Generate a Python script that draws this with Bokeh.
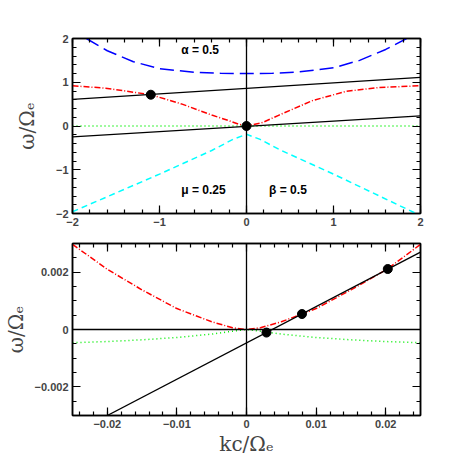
from bokeh.plotting import figure
from bokeh.layouts import column
from bokeh.models import Span, Label, LinearAxis, FixedTicker, Range1d
from bokeh.embed import file_html
from bokeh.resources import INLINE

# ---------------- data: top panel ----------------
k_blue = [-1.84, -1.6, -1.3, -1.0, -0.6, -0.3, 0.0, 0.3, 0.6, 1.0, 1.3, 1.6, 1.84]
w_blue = [2.0, 1.72, 1.47, 1.31, 1.23, 1.205, 1.2, 1.205, 1.235, 1.33, 1.5, 1.75, 2.0]

k_red = [-2.0, -1.62, -1.1, -0.74, -0.4, -0.2, -0.09, 0.0, 0.185, 0.375, 0.757, 1.14, 1.52, 2.0]
w_red = [0.92, 0.865, 0.715, 0.50, 0.25, 0.12, 0.04, 0.0, 0.08, 0.25, 0.58, 0.79, 0.88, 0.92]

k_cyan = [-2.0, -1.0, -0.4, -0.15, 0.0, 0.15, 0.4, 1.0, 1.95]
w_cyan = [-1.96, -1.1, -0.56, -0.3, -0.19, -0.3, -0.56, -1.1, -2.0]

k_green_top = [-2.0, 2.0]
w_green_top = [0.0, 0.0]

k_line_a = [-2.0, 2.0]
w_line_a = [0.61, 1.11]
k_line_b = [-2.0, 2.0]
w_line_b = [-0.25, 0.23]

k_dots_top = [-1.1, 0.0]
w_dots_top = [0.715, 0.0]

# ---------------- data: bottom panel ----------------
k_red2 = [-0.025, -0.02, -0.015, -0.01, -0.005, -0.002, 0.0, 0.002, 0.005, 0.008, 0.01, 0.015, 0.0203, 0.025]
w_red2 = [0.00297, 0.0021, 0.00138, 0.00073, 0.00027, 0.00006, 0.0, 0.00006, 0.00027, 0.00054,
          0.00073, 0.00138, 0.00212, 0.00297]

k_green2 = [-0.025, -0.02, -0.015, -0.01, -0.005, -0.002, 0.0, 0.002, 0.005, 0.01, 0.015, 0.02, 0.025]
w_green2 = [-0.00046, -0.00042, -0.00036, -0.00028, -0.00016, -0.00006, 0.0, -0.00006, -0.00016,
            -0.00028, -0.00036, -0.00042, -0.00046]

k_line2 = [-0.02, 0.025]
w_line2 = [-0.003, 0.0027]

k_dots2 = [0.00287, 0.00797, 0.0203]
w_dots2 = [-0.000107, 0.00054, 0.00211]

# ticks
top_major = [-2, -1, 0, 1, 2]
top_labels = {-2: "\u22122", -1: "\u22121", 0: "0", 1: "1", 2: "2"}
top_minor = [round(-2 + 0.2 * i, 2) for i in range(21)]
bx_major = [-0.02, -0.01, 0, 0.01, 0.02]
bx_labels = {-0.02: "\u22120.02", -0.01: "\u22120.01", 0: "0", 0.01: "0.01", 0.02: "0.02"}
bx_minor = [round(-0.024 + 0.002 * i, 3) for i in range(25)]
by_major = [-0.002, 0, 0.002]
by_labels = {-0.002: "\u22120.002", 0: "0", 0.002: "0.002"}
by_minor = [round(-0.003 + 0.0005 * i, 4) for i in range(13)]

FONT = "Liberation Sans"
SERIF = "DejaVu Serif"


def style_axis(ax, major, minor, overrides=None, show=True):
    ax.ticker = FixedTicker(ticks=major, minor_ticks=minor)
    ax.major_tick_in = 8
    ax.major_tick_out = 0
    ax.minor_tick_in = 4
    ax.minor_tick_out = 0
    ax.axis_line_color = "black"
    ax.axis_line_width = 1.5
    ax.major_tick_line_width = 1.2
    ax.minor_tick_line_width = 1.2
    ax.major_label_text_font = FONT
    ax.major_label_text_font_style = "bold"
    ax.major_label_text_font_size = "11px"
    ax.major_label_standoff = 4
    if overrides:
        ax.major_label_overrides = overrides
    if not show:
        ax.major_label_text_color = None
        ax.major_label_standoff = 0


def set_label(ax, text, standoff):
    ax.axis_label = text
    ax.axis_label_text_font = SERIF
    ax.axis_label_text_font_style = "normal"
    ax.axis_label_text_font_size = "20px"
    ax.axis_label_standoff = standoff


def make_fig(xr, yr, height, top, bottom, xmaj, xmin, ymaj, ymin, xo, yo):
    p = figure(width=458, height=height, x_range=Range1d(*xr), y_range=Range1d(*yr),
               output_backend="svg", toolbar_location=None,
               min_border_left=71, min_border_right=38, min_border_top=top, min_border_bottom=bottom)
    p.grid.visible = False
    p.outline_line_color = "black"
    p.outline_line_width = 1.5
    bx = p.xaxis[0]
    ly = p.yaxis[0]
    style_axis(bx, xmaj, xmin, xo)
    style_axis(ly, ymaj, ymin, yo)
    ra = LinearAxis()
    style_axis(ra, ymaj, ymin, show=False)
    ta = LinearAxis()
    style_axis(ta, xmaj, xmin, show=False)
    p.add_layout(ra, "right")
    p.add_layout(ta, "above")
    p.add_layout(Span(location=0, dimension="height", line_color="black", line_width=1.3))
    return p, bx, ly


# ---------------- top panel ----------------
p1, bx1, ly1 = make_fig((-2, 2), (-2, 2), 235, 38, 22, top_major, top_minor, top_major, top_minor,
                        top_labels, top_labels)
set_label(ly1, "ω/Ωₑ", 14)
p1.line(k_green_top, w_green_top, line_color="#00ee00", line_width=1.5, line_dash="1 3")
p1.line(k_cyan, w_cyan, line_color="#00ffff", line_width=1.5, line_dash="6 4")
p1.line(k_blue, w_blue, line_color="#0000ff", line_width=1.5, line_dash="14 6")
p1.line(k_red, w_red, line_color="#ff0000", line_width=1.5, line_dash="6 2 1 2")
p1.line(k_line_a, w_line_a, line_color="black", line_width=1.3)
p1.line(k_line_b, w_line_b, line_color="black", line_width=1.3)
p1.scatter(k_dots_top, w_dots_top, size=9, color="black")
for txt, xx, yy in [("α = 0.5", -0.75, 1.57), ("μ = 0.25", -0.75, -1.63), ("β = 0.5", 0.26, -1.63)]:
    p1.add_layout(Label(x=xx, y=yy, text=txt, text_font=FONT, text_font_style="bold",
                        text_font_size="12px", text_color="black"))

# ---------------- bottom panel ----------------
p2, bx2, ly2 = make_fig((-0.025, 0.025), (-0.003, 0.003), 223, 8, 42, bx_major, bx_minor,
                        by_major, by_minor, bx_labels, by_labels)
set_label(ly2, "ω/Ωₑ", 4)
set_label(bx2, "kc/Ωₑ", 1)
p2.add_layout(Span(location=0, dimension="width", line_color="black", line_width=1.3))
p2.line(k_green2, w_green2, line_color="#00ee00", line_width=1.5, line_dash="1 3")
p2.line(k_red2, w_red2, line_color="#ff0000", line_width=1.5, line_dash="6 2 1 2")
p2.line(k_line2, w_line2, line_color="black", line_width=1.3)
p2.scatter(k_dots2, w_dots2, size=9, color="black")

layout = column(p1, p2, spacing=0)
open("out.html", "w").write(file_html(layout, INLINE))
